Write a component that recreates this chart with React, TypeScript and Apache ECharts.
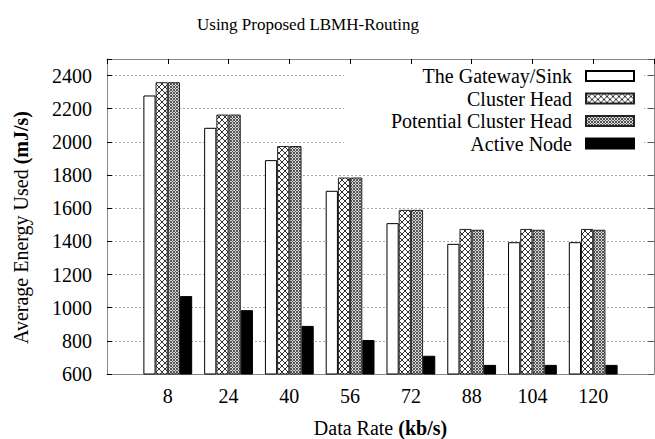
import React, { useEffect, useRef } from "react";
import * as echarts from "echarts";

const categories = ["8", "24", "40", "56", "72", "88", "104", "120"];
const seriesNames = ["The Gateway/Sink", "Cluster Head", "Potential Cluster Head", "Active Node"];
const gateway = [2280, 2085, 1890, 1705, 1510, 1385, 1395, 1395];
const clusterHead = [2360, 2165, 1975, 1785, 1590, 1475, 1475, 1475];
const potentialCH = [2360, 2165, 1975, 1785, 1590, 1470, 1470, 1470];
const activeNode = [1070, 985, 890, 805, 710, 655, 655, 655];
const yTicks = [600, 800, 1000, 1200, 1400, 1600, 1800, 2000, 2200, 2400];

const FONT = "Liberation Serif";

function makePattern(size: number, color: string) {
  const c = document.createElement("canvas");
  c.width = size;
  c.height = size;
  const ctx = c.getContext("2d")!;
  ctx.fillStyle = "#fff";
  ctx.fillRect(0, 0, size, size);
  ctx.fillStyle = color;
  for (let i = 0; i < size; i++) {
    ctx.fillRect(i, i, 1, 1);
    ctx.fillRect(size - 1 - i, i, 1, 1);
  }
  return c;
}

function makeFinePattern(color: string) {
  const c = document.createElement("canvas");
  c.width = 3;
  c.height = 3;
  const ctx = c.getContext("2d")!;
  ctx.fillStyle = "#d8d8d8";
  ctx.fillRect(0, 0, 3, 3);
  ctx.fillStyle = color;
  ctx.fillRect(0, 0, 1, 1);
  ctx.fillRect(2, 0, 1, 1);
  ctx.fillRect(1, 1, 1, 1);
  ctx.fillRect(0, 2, 1, 1);
  ctx.fillRect(2, 2, 1, 1);
  return c;
}

export default function App() {
  const ref = useRef<HTMLDivElement>(null);
  useEffect(() => {
    document.body.style.margin = "0";
    const chart = echarts.init(ref.current!, undefined, { renderer: "svg" });
    const chPattern = { image: makePattern(6, "#333"), repeat: "repeat" };
    const pchPattern = { image: makeFinePattern("#555"), repeat: "repeat" };
    const toPairs = (arr: number[]) => arr.map((v, i) => [i, v]);
    const barBase = {
      type: "bar",
      barWidth: 12.2,
      barGap: "0%",
      xAxisIndex: 0,
      yAxisIndex: 0,
      z: 2,
    };
    const boxLine = { show: true, onZero: false, lineStyle: { color: "#888", width: 1 } };
    const option: any = {
      animation: false,
      backgroundColor: "#fff",
      textStyle: { fontFamily: FONT },
      title: {
        text: "Using Proposed LBMH-Routing",
        left: 197,
        top: 16,
        padding: 0,
        textStyle: { fontFamily: FONT, fontSize: 17, fontWeight: "normal", color: "#000" },
      },
      grid: { left: 107, right: 1, top: 59, bottom: 65, containLabel: false, outerBoundsMode: "none" },
      legend: {
        data: seriesNames,
        orient: "vertical",
        align: "right",
        right: 20,
        top: 66,
        padding: 0,
        itemWidth: 48,
        itemHeight: 10,
        itemGap: 2.5,
        icon: "rect",
        textStyle: { fontFamily: FONT, fontSize: 20, color: "#000", padding: [0, 9, 0, 0] },
      },
      xAxis: [
        {
          type: "value",
          min: -1,
          max: 8,
          interval: 1,
          position: "bottom",
          name: "Data Rate {b|(kb/s)}",
          nameLocation: "middle",
          nameGap: 44,
          nameTextStyle: {
            fontFamily: FONT,
            fontSize: 20,
            color: "#000",
            rich: { b: { fontFamily: FONT, fontSize: 20, fontWeight: "bold", color: "#000" } },
          },
          axisLine: boxLine,
          axisTick: { show: false },
          splitLine: { show: false },
          axisLabel: {
            fontFamily: FONT,
            fontSize: 20,
            color: "#000",
            margin: 12,
            formatter: (v: number) => categories[v] ?? "",
          },
        },
        {
          type: "value",
          min: -1,
          max: 8,
          interval: 1,
          position: "top",
          axisLine: boxLine,
          axisTick: { show: true, inside: true, length: 5, lineStyle: { color: "#000" } },
          axisLabel: { show: false },
          splitLine: { show: false },
        },
      ],
      yAxis: [
        {
          type: "value",
          min: 600,
          max: 2500,
          interval: 200,
          position: "left",
          name: "Average Energy Used {b|(mJ/s)}",
          nameLocation: "middle",
          nameGap: 76,
          nameTextStyle: {
            fontFamily: FONT,
            fontSize: 20,
            color: "#000",
            padding: [0, 22, 0, 0],
            rich: { b: { fontFamily: FONT, fontSize: 20, fontWeight: "bold", color: "#000" } },
          },
          axisLine: boxLine,
          axisTick: { show: true, inside: true, length: 5, lineStyle: { color: "#000" } },
          axisLabel: {
            fontFamily: FONT,
            fontSize: 20,
            color: "#000",
            margin: 15,
            formatter: (v: number) => (yTicks.includes(v) ? String(v) : ""),
          },
          splitLine: {
            show: true,
            lineStyle: { color: "#aaa", type: [2, 2], width: 1 },
          },
        },
        {
          type: "value",
          min: 600,
          max: 2500,
          interval: 200,
          position: "right",
          axisLine: boxLine,
          axisTick: { show: true, inside: true, length: 6, lineStyle: { color: "#555" } },
          axisLabel: { show: false },
          splitLine: { show: false },
        },
      ],
      graphic: [
        {
          type: "rect",
          z: 1,
          silent: true,
          shape: { x: 344, y: 66, width: 300, height: 84 },
          style: { fill: "#fff" },
        },
      ],
      series: [
        {
          ...barBase,
          name: seriesNames[0],
          data: toPairs(gateway),
          itemStyle: { color: "#fff", borderColor: "#000", borderWidth: 1 },
        },
        {
          ...barBase,
          name: seriesNames[1],
          data: toPairs(clusterHead),
          itemStyle: { color: chPattern, borderColor: "#222", borderWidth: 1 },
        },
        {
          ...barBase,
          name: seriesNames[2],
          data: toPairs(potentialCH),
          itemStyle: { color: pchPattern, borderColor: "#222", borderWidth: 1 },
        },
        {
          ...barBase,
          name: seriesNames[3],
          data: toPairs(activeNode),
          itemStyle: { color: "#000", borderColor: "#000", borderWidth: 1 },
        },
      ],
    };
    chart.setOption(option);
    return () => chart.dispose();
  }, []);
  return <div ref={ref} style={{ width: 655, height: 439 }} />;
}
